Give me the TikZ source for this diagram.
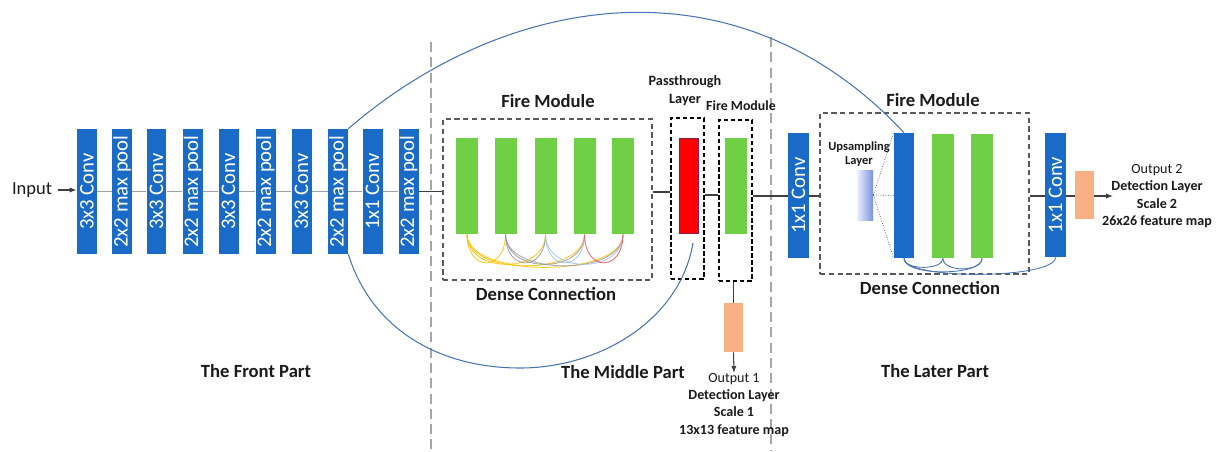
\documentclass[tikz,border=0pt]{standalone}
\usepackage{fontspec}
\setmainfont{Carlito}
\usepackage{graphicx}
\usetikzlibrary{arrows.meta}

\definecolor{convblue}{HTML}{1A6BC7}
\definecolor{firegreen}{HTML}{6FCF45}
\definecolor{passred}{HTML}{FF0000}
\definecolor{outorange}{HTML}{F9B084}
\definecolor{skipblue}{HTML}{4A74B8}
\definecolor{linegray}{HTML}{A0A0A0}
\definecolor{darkline}{HTML}{404040}
\definecolor{sepgray}{HTML}{A6A6A6}
\definecolor{boxgray}{HTML}{595959}
\definecolor{dcyellow}{HTML}{FFC000}
\definecolor{dcgray}{HTML}{9A9A9A}
\definecolor{dcblue}{HTML}{9DC3E6}
\definecolor{dcred}{HTML}{FF5050}
\definecolor{txt}{HTML}{1A1A1A}

\tikzset{
  convblk/.style={fill=convblue, draw=none, inner sep=0pt, minimum width=0.4cm,
    minimum height=2.5cm, text=white, font=\fontsize{11.8}{13}\selectfont},
  firebar/.style={fill=firegreen, draw=none, inner sep=0pt, minimum width=0.44cm},
  outblk/.style={fill=outorange, draw=none, inner sep=0pt, minimum width=0.38cm},
  modbox/.style={draw=boxgray, line width=0.7pt, dash pattern=on 3pt off 2pt,
    inner sep=0pt, minimum height=3.22cm},
  smallbox/.style={draw=black, line width=0.9pt, dash pattern=on 2.5pt off 1.5pt,
    inner sep=0pt, minimum width=0.66cm, minimum height=3.22cm},
  biglabel/.style={text=txt, font=\fontsize{10.6}{12}\selectfont\bfseries},
  outlabel/.style={text=txt, align=center, inner sep=0pt, font=\fontsize{8}{9.8}\selectfont},
  sepline/.style={draw=sepgray, line width=0.6pt, dash pattern=on 5.7pt off 3pt},
  chain/.style={draw=linegray, line width=0.6pt},
  link/.style={draw=darkline, line width=0.7pt},
  arr/.style={draw=darkline, line width=0.6pt, -{Latex[length=4pt,width=3pt]}},
  skip/.style={draw=skipblue, line width=0.6pt},
  dense/.style={line width=0.5pt, opacity=0.85}
}

\begin{document}
\begin{tikzpicture}[x=0.02cm, y=-0.02cm]
\useasboundingbox (0,0) rectangle (1217,451);

% section separators
\draw[sepline] (431,42) -- (431,451);
\draw[sepline] (771,37) -- (771,451);

% ---------- front part ----------
\node[text=txt, font=\fontsize{10.5}{12}\selectfont] (input) at (32,190) {Input};
\node[convblk] (b1)  at (87,191.5)    {\rotatebox{90}{3x3 Conv}};
\node[convblk] (b2)  at (122,191.5)   {\rotatebox{90}{2x2 max pool}};
\node[convblk] (b3)  at (156.5,191.5) {\rotatebox{90}{3x3 Conv}};
\node[convblk] (b4)  at (192.5,191.5) {\rotatebox{90}{2x2 max pool}};
\node[convblk] (b5)  at (228.5,191.5) {\rotatebox{90}{3x3 Conv}};
\node[convblk] (b6)  at (265.5,191.5) {\rotatebox{90}{2x2 max pool}};
\node[convblk] (b7)  at (301.5,191.5) {\rotatebox{90}{3x3 Conv}};
\node[convblk] (b8)  at (338,191.5)   {\rotatebox{90}{2x2 max pool}};
\node[convblk] (b9)  at (372.5,191.5) {\rotatebox{90}{1x1 Conv}};
\node[convblk] (b10) at (408.5,191.5) {\rotatebox{90}{2x2 max pool}};

\draw[arr] (input.east) -- (b1.west |- input.east);
\foreach \a/\b in {b1/b2,b2/b3,b3/b4,b4/b5,b5/b6,b6/b7,b7/b8,b8/b9,b9/b10}
  \draw[chain] (\a.east) -- (\b.west);

% ---------- middle part ----------
\node[modbox, minimum width=4.18cm] (fire) at (547.5,199.5) {};
\node[biglabel] (firelbl) at (548,101) {Fire Module};
\node[biglabel] (denselbl) at (546,294) {Dense Connection};
\foreach \n/\x in {1/467,2/505.5,3/545.5,4/584.5,5/623}
  \node[firebar, minimum height=1.92cm] (g\n) at (\x,186) {};

% dense connections between the fire bars
\foreach \i/\j/\c in {1/2/dcyellow,1/3/dcyellow,1/4/dcyellow,1/5/dcyellow,
                      2/3/dcgray,2/4/dcgray,2/5/dcgray,
                      3/4/dcblue,3/5/dcblue,4/5/dcred}
  \draw[dense, draw=\c] (g\i.south) .. controls +(0,{36+2*(\j-\i)}) and +(0,{36+2*(\j-\i)}) .. (g\j.south);

\node[smallbox] (pass) at (687.5,198.5) {};
\node[fill=passred, draw={rgb,255:red,130;green,30;blue,80}, line width=0.4pt,
      inner sep=0pt, minimum width=0.38cm, minimum height=1.9cm] (red) at (688.5,185.5) {};
\node[text=txt, align=center, font=\fontsize{8.1}{10.2}\selectfont\bfseries] (passlbl) at (685,91) {Passthrough\\Layer};

\node[smallbox] (fire2) at (735.5,200.5) {};
\node[firebar, minimum height=1.92cm] (g6) at (736,186) {};
\node[text=txt, font=\fontsize{7.9}{9.5}\selectfont\bfseries] (fire2lbl) at (741,106) {Fire Module};

\node[outblk, minimum height=0.98cm] (o1) at (733.5,327.5) {};
\node[outlabel, anchor=north] (out1) at (734,373)
  {Output 1\\\textbf{Detection Layer}\\\textbf{Scale 1}\\\textbf{13x13 feature map}};

\draw[link] (b10.east) -- (b10.east -| fire.west);
\draw[link] (fire.east |- 0,192) -- (pass.west |- 0,192);
\draw[link] (pass.east |- 0,195) -- (fire2.west |- 0,195);
\draw[link] (fire2.south -| o1.north) -- (o1.north);
\draw[arr] (o1.south) -- (out1.north);

% ---------- later part ----------
\node[convblk, minimum width=0.42cm] (c1) at (798.5,195.5) {\rotatebox{90}{1x1 Conv}};
\node[modbox, minimum width=4.18cm] (fire3) at (924.5,193.5) {};
\node[biglabel] (fire3lbl) at (933,100) {Fire Module};
\node[biglabel] (dense3lbl) at (930,288) {Dense Connection};

\shade[left color={rgb,255:red,236;green,240;blue,252}, right color={rgb,255:red,120;green,145;blue,225}]
  (857,170) rectangle (873,220);
\node[inner sep=0pt, minimum width=0.32cm, minimum height=1cm] (up) at (865,195) {};
\node[text=txt, align=center, font=\fontsize{7.1}{7.9}\selectfont\bfseries] (uplbl) at (859,154) {Upsampling\\Layer};

\node[convblk, minimum height=2.5cm] (ub) at (904,195.5) {};
\node[firebar, minimum height=2.48cm] (g7) at (943,196) {};
\node[firebar, minimum height=2.48cm] (g8) at (982,196) {};
\node[convblk, minimum width=0.42cm, minimum height=2.48cm] (c2) at (1055.5,195) {\rotatebox{90}{1x1 Conv}};

\draw[densely dotted, draw=darkline, line width=0.4pt] (up.east) -- (ub.north west);
\draw[densely dotted, draw=darkline, line width=0.4pt] (up.east) -- (ub.west);
\draw[densely dotted, draw=darkline, line width=0.4pt] (up.east) -- (ub.south west);

\draw[skip, line width=0.5pt] (ub.south) .. controls +(0,12) and +(0,12) .. (g7.south);
\draw[skip, line width=0.5pt] (ub.south) .. controls +(0,18) and +(0,18) .. (g8.south);
\draw[skip, line width=0.5pt] (g7.south) .. controls +(0,14) and +(0,14) .. (g8.south);
\draw[skip, line width=0.5pt] (ub.south) .. controls +(0,22) and +(0,22) .. (c2.south);

\node[outblk, minimum height=0.96cm] (o2) at (1084.5,195) {};
\node[outlabel] (out2) at (1157,196)
  {Output 2\\\textbf{Detection Layer}\\\textbf{Scale 2}\\\textbf{26x26 feature map}};
\coordinate (out2tip) at (1113,196);

\draw[link] (fire2.east |- 0,196) -- (c1.west |- 0,196);
\draw[link] (c1.east |- 0,196) -- (fire3.west |- 0,196);
\draw[link] (fire3.east |- 0,196) -- (c2.west |- 0,196);
\draw[link] (c2.east |- 0,196) -- (o2.west |- 0,196);
\draw[arr] (o2.east |- 0,196) -- (out2tip);

% ---------- part titles ----------
\node[biglabel] (front) at (256,371) {The Front Part};
\node[biglabel] (middle) at (623,372) {The Middle Part};
\node[biglabel] (later) at (935,371) {The Later Part};

% ---------- long skip path ----------
\coordinate (pend) at (693,243);
\draw[skip] (b8.north east) .. controls (503,-5) and (735,-48) .. (ub.north);
\draw[skip] (b8.south east) .. controls (372,330) and (440,368) .. (520,368)
  .. controls (600,368) and (680,320) .. (pend);
\end{tikzpicture}
\end{document}
